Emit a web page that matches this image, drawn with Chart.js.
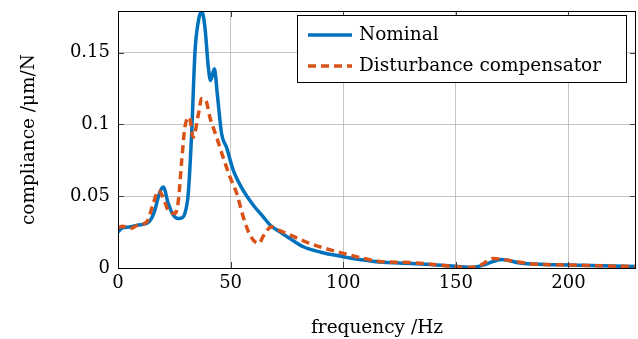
<!DOCTYPE html>
<html>
<head>
<meta charset="utf-8">
<script src="https://cdn.jsdelivr.net/npm/chart.js@4.4.0/dist/chart.umd.min.js"></script>
<style>
  html, body { margin: 0; padding: 0; background: #fff; }
  #wrap { width: 638px; height: 339px; }
</style>
</head>
<body>
<div id="wrap"><canvas id="c" width="638" height="339"></canvas></div>
<script>
// data
const seriesNames = ['Nominal', 'Disturbance compensator'];

const nominalFreq = [0, 2, 5, 9, 12.7, 14.9, 16.5, 17.9, 20.1, 22.3, 24.6, 26.8, 28.5, 29.7, 31.2, 32.7, 34.2, 35.7, 37.1, 38.6, 40.1, 41.1, 42.8, 44.1, 46, 48.2, 51.2, 55.6, 60.1, 64.5, 67.5, 72, 76.3, 82.3, 90, 100, 108, 116, 130.8, 140, 150, 157.6, 163.6, 170.3, 178.4, 190, 200, 215, 230];
const nominalVal = [0.025, 0.028, 0.0285, 0.030, 0.031, 0.0345, 0.041, 0.0495, 0.0565, 0.045, 0.0368, 0.0345, 0.035, 0.038, 0.052, 0.0935, 0.151, 0.172, 0.179, 0.1676, 0.140, 0.1306, 0.1387, 0.121, 0.0935, 0.084, 0.068, 0.054, 0.0437, 0.0356, 0.030, 0.025, 0.0206, 0.0148, 0.011, 0.0079, 0.0058, 0.0042, 0.0032, 0.0022, 0.0012, 0.0005, 0.0028, 0.006, 0.0035, 0.0025, 0.0021, 0.0015, 0.001];

const compFreq = [0, 2, 5.3, 9, 12.7, 15.7, 17.9, 20.1, 22.3, 25.3, 26.8, 28.3, 29.7, 31.7, 33.4, 35.7, 37.1, 39, 40.8, 43.8, 46.7, 49.7, 52.7, 55.6, 58.6, 62.3, 65.2, 68.2, 71.9, 75, 85.2, 100, 108, 116, 130.8, 140, 150, 156, 161, 166.6, 172.5, 184, 200, 215, 230];
const compVal = [0.028, 0.029, 0.0275, 0.030, 0.032, 0.045, 0.054, 0.049, 0.040, 0.038, 0.047, 0.075, 0.098, 0.105, 0.091, 0.107, 0.118, 0.1167, 0.105, 0.091, 0.077, 0.0634, 0.052, 0.0356, 0.023, 0.0171, 0.024, 0.0287, 0.026, 0.024, 0.0171, 0.0102, 0.007, 0.0046, 0.0037, 0.0025, 0.001, 0.0003, 0.002, 0.0067, 0.0056, 0.0028, 0.0021, 0.0015, 0.001];

const xTicks = [0, 50, 100, 150, 200];
const yTicks = [0, 0.05, 0.1, 0.15];

const FONT = 'DejaVu Serif';
const BLUE = '#0072BD';
const ORANGE = '#D95319';

const toPoints = (xs, ys) => xs.map((x, i) => ({ x: x, y: ys[i] }));

// box around the plot, inward ticks, and the legend inside the plot
const framePlugin = {
    id: 'frame',
    afterDatasetsDraw(chart) {
        const ctx = chart.ctx;
        const a = chart.chartArea;
        const xs = chart.scales.x, ys = chart.scales.y;
        ctx.save();
        ctx.strokeStyle = '#404040';
        ctx.lineWidth = 1;
        ctx.beginPath();
        xTicks.forEach(v => {
            const px = Math.round(xs.getPixelForValue(v)) + 0.5;
            ctx.moveTo(px, a.bottom); ctx.lineTo(px, a.bottom - 6);
            ctx.moveTo(px, a.top); ctx.lineTo(px, a.top + 6);
        });
        yTicks.forEach(v => {
            const py = Math.round(ys.getPixelForValue(v)) + 0.5;
            ctx.moveTo(a.left, py); ctx.lineTo(a.left + 6, py);
            ctx.moveTo(a.right, py); ctx.lineTo(a.right - 6, py);
        });
        ctx.stroke();
        ctx.strokeStyle = '#000';
        ctx.strokeRect(Math.round(a.left) + 0.5, Math.round(a.top) + 0.5,
            Math.round(a.right - a.left) - 1, Math.round(a.bottom - a.top));

        // legend
        const bx = 297.5, by = 15.5, bw = 329, bh = 67;
        ctx.fillStyle = '#fff';
        ctx.fillRect(bx, by, bw, bh);
        ctx.strokeStyle = '#000';
        ctx.strokeRect(bx, by, bw, bh);
        const rows = [35, 66];
        const styles = [
            { color: BLUE, dash: [] },
            { color: ORANGE, dash: [8, 5] }
        ];
        ctx.font = '18.5px "' + FONT + '"';
        ctx.textBaseline = 'middle';
        ctx.textAlign = 'left';
        rows.forEach((ry, i) => {
            ctx.strokeStyle = styles[i].color;
            ctx.lineWidth = 3.5;
            ctx.setLineDash(styles[i].dash);
            ctx.beginPath();
            ctx.moveTo(308, ry);
            ctx.lineTo(352, ry);
            ctx.stroke();
            ctx.setLineDash([]);
            ctx.fillStyle = '#000';
            ctx.fillText(seriesNames[i], 359, ry);
        });
        ctx.restore();
    }
};

new Chart(document.getElementById('c'), {
    type: 'line',
    data: {
        datasets: [
            {
                label: seriesNames[0],
                data: toPoints(nominalFreq, nominalVal),
                borderColor: BLUE,
                borderWidth: 3.5,
                pointRadius: 0,
                cubicInterpolationMode: 'monotone',
                order: 2
            },
            {
                label: seriesNames[1],
                data: toPoints(compFreq, compVal),
                borderColor: ORANGE,
                borderWidth: 3.5,
                borderDash: [8, 5],
                pointRadius: 0,
                cubicInterpolationMode: 'monotone',
                order: 1
            }
        ]
    },
    options: {
        responsive: false,
        animation: false,
        layout: { padding: { top: 11, right: 2, left: 0, bottom: 0 } },
        plugins: {
            legend: { display: false },
            tooltip: { enabled: false }
        },
        scales: {
            x: {
                type: 'linear',
                min: 0,
                max: 230,
                afterFit(scale) {
                    scale.height = 71;
                    scale.paddingLeft = 0;
                    scale.paddingRight = 0;
                },
                afterBuildTicks(scale) { scale.ticks = xTicks.map(v => ({ value: v })); },
                grid: { color: '#c4c4c4', drawTicks: false },
                border: { display: false },
                ticks: {
                    padding: 5,
                    color: '#000',
                    font: { family: FONT, size: 18 },
                    maxRotation: 0,
                    callback: v => String(v)
                },
                title: {
                    display: true,
                    text: 'frequency /Hz',
                    color: '#000',
                    font: { family: FONT, size: 18.5 },
                    padding: { top: 1, bottom: 0 }
                }
            },
            y: {
                min: 0,
                max: 0.179,
                afterFit(scale) {
                    scale.width = 118;
                    scale.paddingTop = 0;
                    scale.paddingBottom = 0;
                },
                afterBuildTicks(scale) { scale.ticks = yTicks.map(v => ({ value: v })); },
                grid: { color: '#c4c4c4', drawTicks: false },
                border: { display: false },
                ticks: {
                    padding: 8,
                    color: '#000',
                    font: { family: FONT, size: 18 },
                    callback: v => String(+v.toFixed(3))
                },
                title: {
                    display: true,
                    text: 'compliance /μm/N',
                    color: '#000',
                    font: { family: FONT, size: 18.5 },
                    padding: { top: 18, bottom: 0 }
                }
            }
        }
    },
    plugins: [framePlugin]
});
</script>
</body>
</html>
